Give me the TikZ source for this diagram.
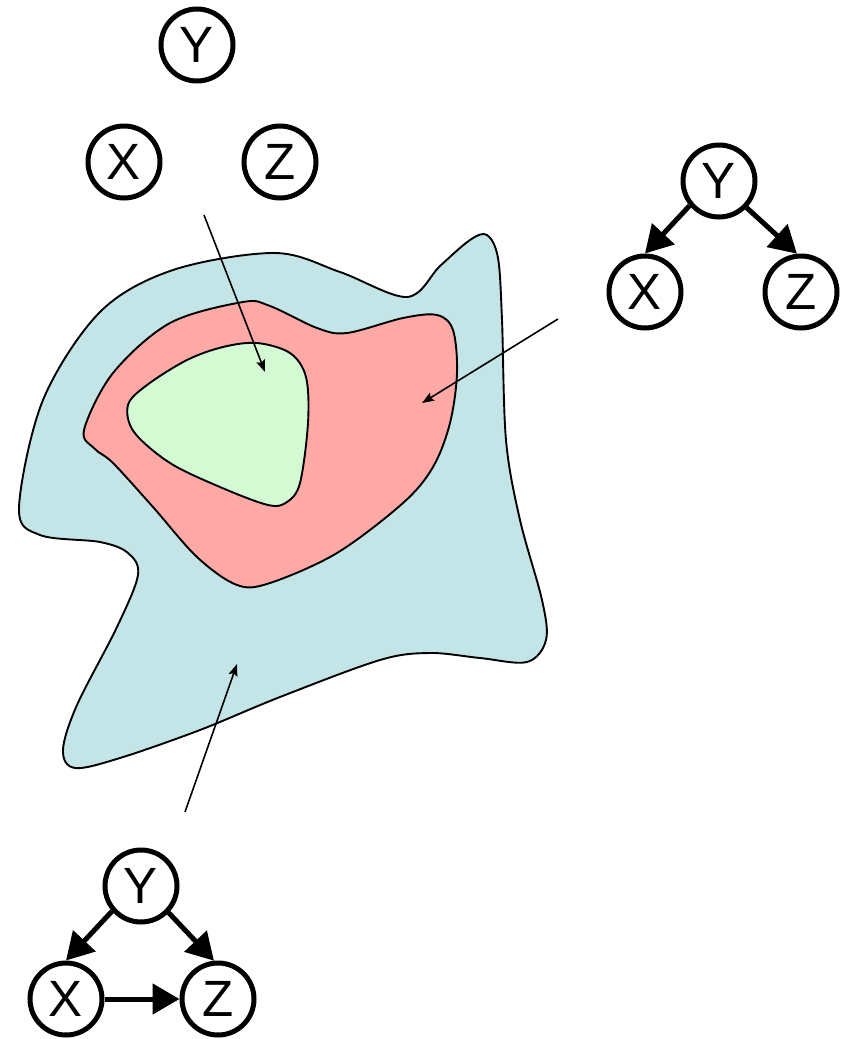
\documentclass[tikz,border=0pt]{standalone}
\usepackage{fontspec}
\setmainfont{Liberation Sans}
\usetikzlibrary{arrows.meta}
\definecolor{blobblue}{HTML}{C4E5E8}
\definecolor{blobred}{HTML}{FFA9A7}
\definecolor{blobgreen}{HTML}{D4FAD4}
\tikzset{
  var/.style={circle, draw=black, line width=5pt, minimum size=72pt, inner sep=0pt,
    font=\fontsize{51}{51}\selectfont},
  causal/.style={line width=5pt, -{Triangle[length=27pt,width=30pt]}},
  pointer/.style={line width=1.6pt, -{Stealth[length=12pt,width=9pt,inset=2pt]}},
  blob/.style={draw=black, line width=1.9pt}
}
\begin{document}
\begin{tikzpicture}[x=1pt,y=-1pt]
\useasboundingbox (0,0) rectangle (844,1039);
% blue region
\draw[blob, fill=blobblue] plot[smooth cycle, tension=0.55] coordinates {
 (407,297) (440,266) (470,240) (487,235) (498,258) (502,320) (506,440) (520,520)
 (542,600) (546,640) (527,662) (480,658) (430,653) (380,660) (280,697) (200,730)
 (120,758) (75,768) (63,750) (77,705) (117,627) (138,575) (128,553) (100,542)
 (40,535) (19,508) (43,400) (100,312) (173,270) (275,253) (340,272)};
% red region
\draw[blob, fill=blobred] plot[smooth cycle, tension=0.55] coordinates {
 (243,302) (170,323) (113,373) (84,430) (95,449) (113,463) (153,507) (197,557)
 (237,585) (270,583) (337,553) (403,503) (433,467) (450,423) (457,373) (453,330)
 (437,315) (403,318) (347,333) (317,328) (270,306)};
% green region
\draw[blob, fill=blobgreen] plot[smooth cycle, tension=0.55] coordinates {
 (257,343) (290,353) (306,377) (308,423) (300,483) (287,502) (268,505) (220,487)
 (170,463) (134,432) (128,405) (147,385) (187,360) (223,347)};
% pointers
\coordinate (p1) at (204,215);
\coordinate (q1) at (265,372);
\coordinate (p2) at (558,319);
\coordinate (q2) at (422,403);
\coordinate (p3) at (185,812);
\coordinate (q3) at (237,664);
\draw[pointer] (p1) -- (q1);
\draw[pointer] (p2) -- (q2);
\draw[pointer] (p3) -- (q3);
% top graph: no edges
\node[var] (tY) at (197,45) {Y};
\node[var] (tX) at (124,162) {X};
\node[var] (tZ) at (280,162) {Z};
% right graph
\node[var] (rY) at (719,181) {Y};
\node[var] (rX) at (645,292) {X};
\node[var] (rZ) at (801,292) {Z};
\draw[causal] (rY.220) -- (rX.north);
\draw[causal] (rY.316) -- (rZ.96);
% bottom graph
\node[var] (bY) at (141,886) {Y};
\node[var] (bX) at (66,999) {X};
\node[var] (bZ) at (218,999) {Z};
\draw[causal] (bY.221) -- (bX.north);
\draw[causal] (bY.316) -- (bZ.96);
\draw[causal] (bX.east) -- (bZ.west);
\end{tikzpicture}
\end{document}
